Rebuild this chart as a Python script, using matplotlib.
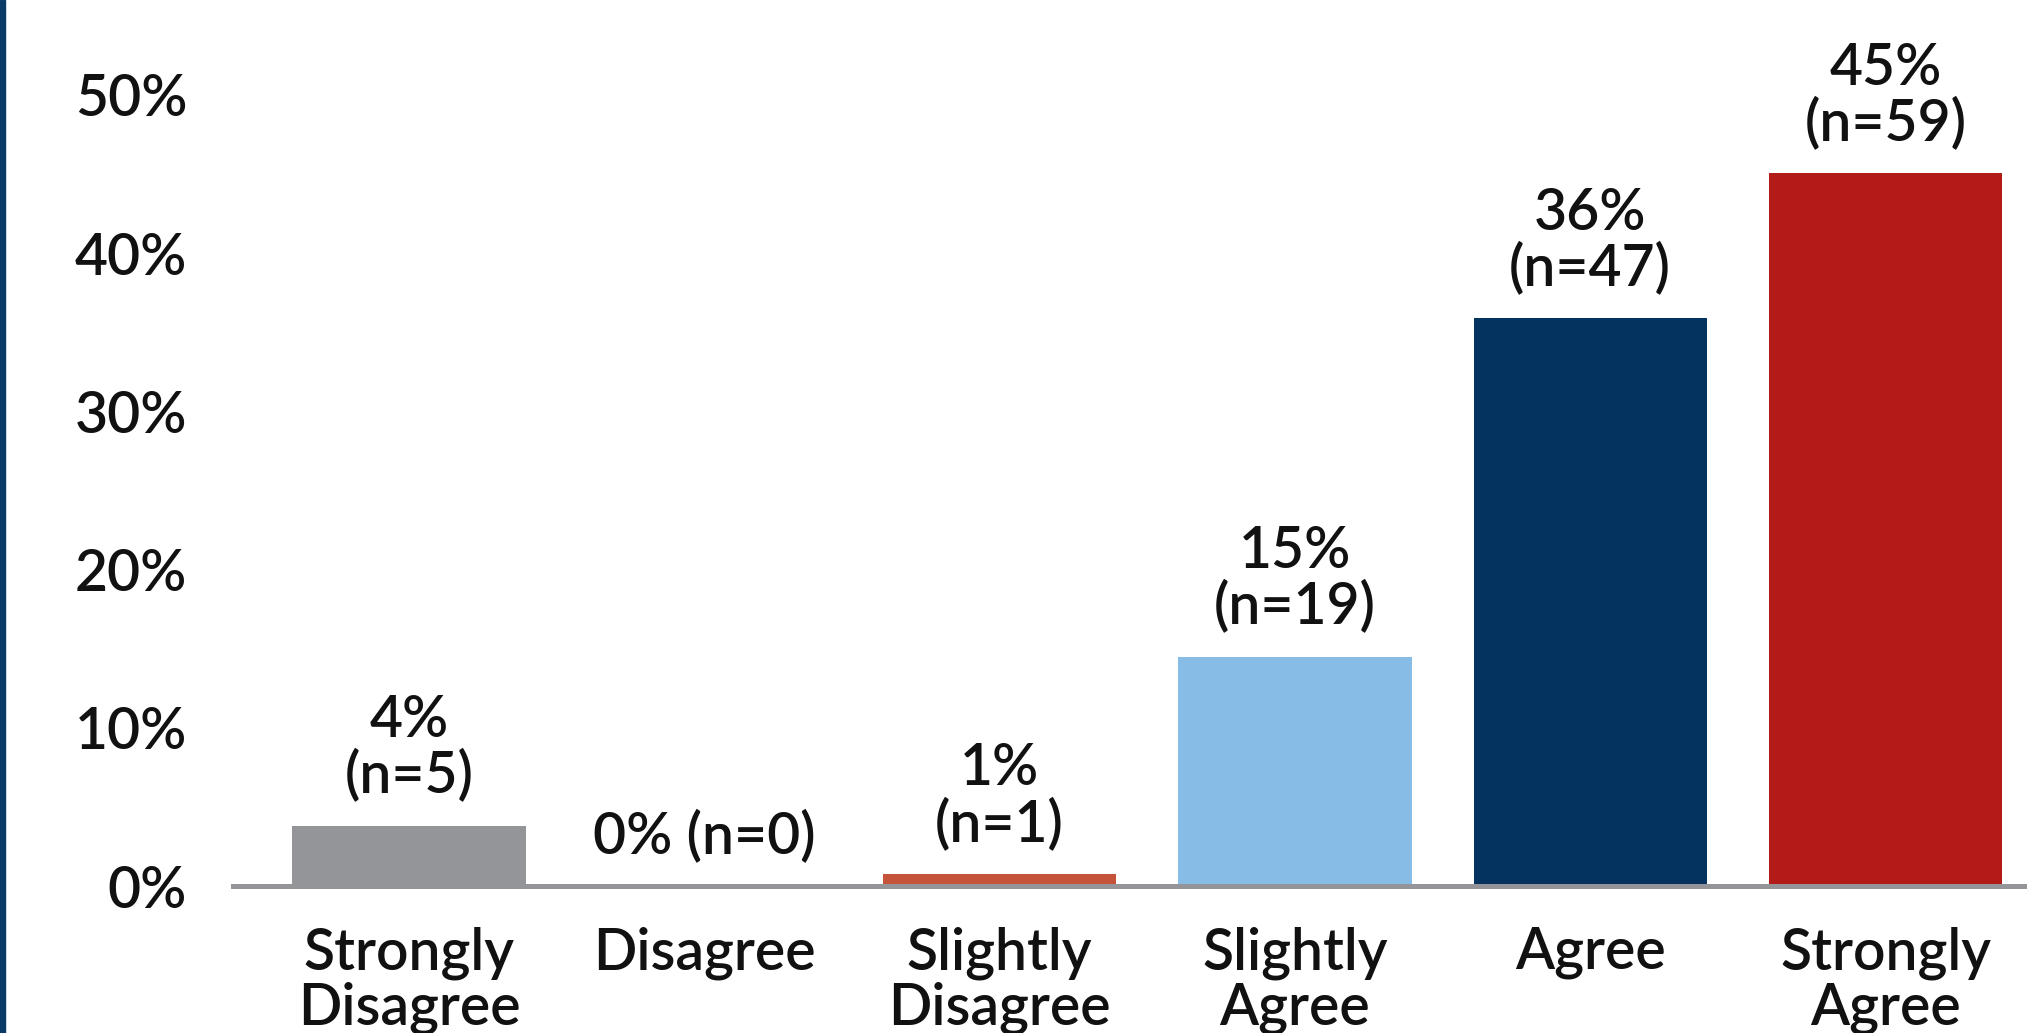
import numpy as np
import matplotlib
matplotlib.use("Agg")
import matplotlib.pyplot as plt
from matplotlib.patches import Rectangle


# ======================================
# SURVEY RESPONSES
# ======================================

categories = [
    "Strongly\nDisagree",
    "Disagree",
    "Slightly\nDisagree",
    "Slightly\nAgree",
    "Agree",
    "Strongly\nAgree",
]

counts = np.array([5, 0, 1, 19, 47, 59])

percent = counts / counts.sum() * 100

bar_colors = [
    "#939598",
    "#939598",
    "#c5533a",
    "#86bce5",
    "#03335e",
    "#b31b18",
]

y_ticks = [0, 10, 20, 30, 40, 50]


# ======================================
# PLOT
# ======================================

plt.rcParams["font.family"] = ["Lato", "DejaVu Sans"]
plt.rcParams["font.weight"] = "semibold"

FS = 41

fig = plt.figure(figsize=(20.27, 10.33), dpi=100)
ax = fig.add_axes([233 / 2027, 1 - 886 / 1033, 1 - 233 / 2027, 886 / 1033])

x = np.arange(len(categories))

ax.bar(x, percent, width=0.79, color=bar_colors, zorder=2)

for xi, p, n in zip(x, percent, counts):
    if n == 0:
        label = f"{p:.0f}% (n={n})"
    else:
        label = f"{p:.0f}%\n(n={n})"
    ax.annotate(
        label,
        (xi, p),
        xytext=(0, 16),
        textcoords="offset points",
        ha="center",
        va="bottom",
        fontsize=FS,
        linespacing=1.05,
        color="#111111",
    )

ax.set_xlim(-0.596, 5.479)
ax.set_ylim(0, 56.0)

ax.set_xticks(x)
ax.set_xticklabels(categories, fontsize=FS, linespacing=1.05, color="#111111")
ax.set_yticks(y_ticks)
ax.set_yticklabels([f"{t}%" for t in y_ticks], fontsize=FS, color="#111111")

ax.tick_params(axis="x", length=0, pad=29)
ax.tick_params(axis="y", length=0, pad=33)

for side in ["top", "right", "left"]:
    ax.spines[side].set_visible(False)

ax.spines["bottom"].set_color("#939598")
ax.spines["bottom"].set_linewidth(3.6)
ax.spines["bottom"].set_zorder(3)

# dark border strip on the left edge
fig.add_artist(
    Rectangle((0, 0), 5 / 2027, 1, transform=fig.transFigure,
              color="#0b3a66", zorder=5)
)

fig.savefig("out.png", dpi=100)
